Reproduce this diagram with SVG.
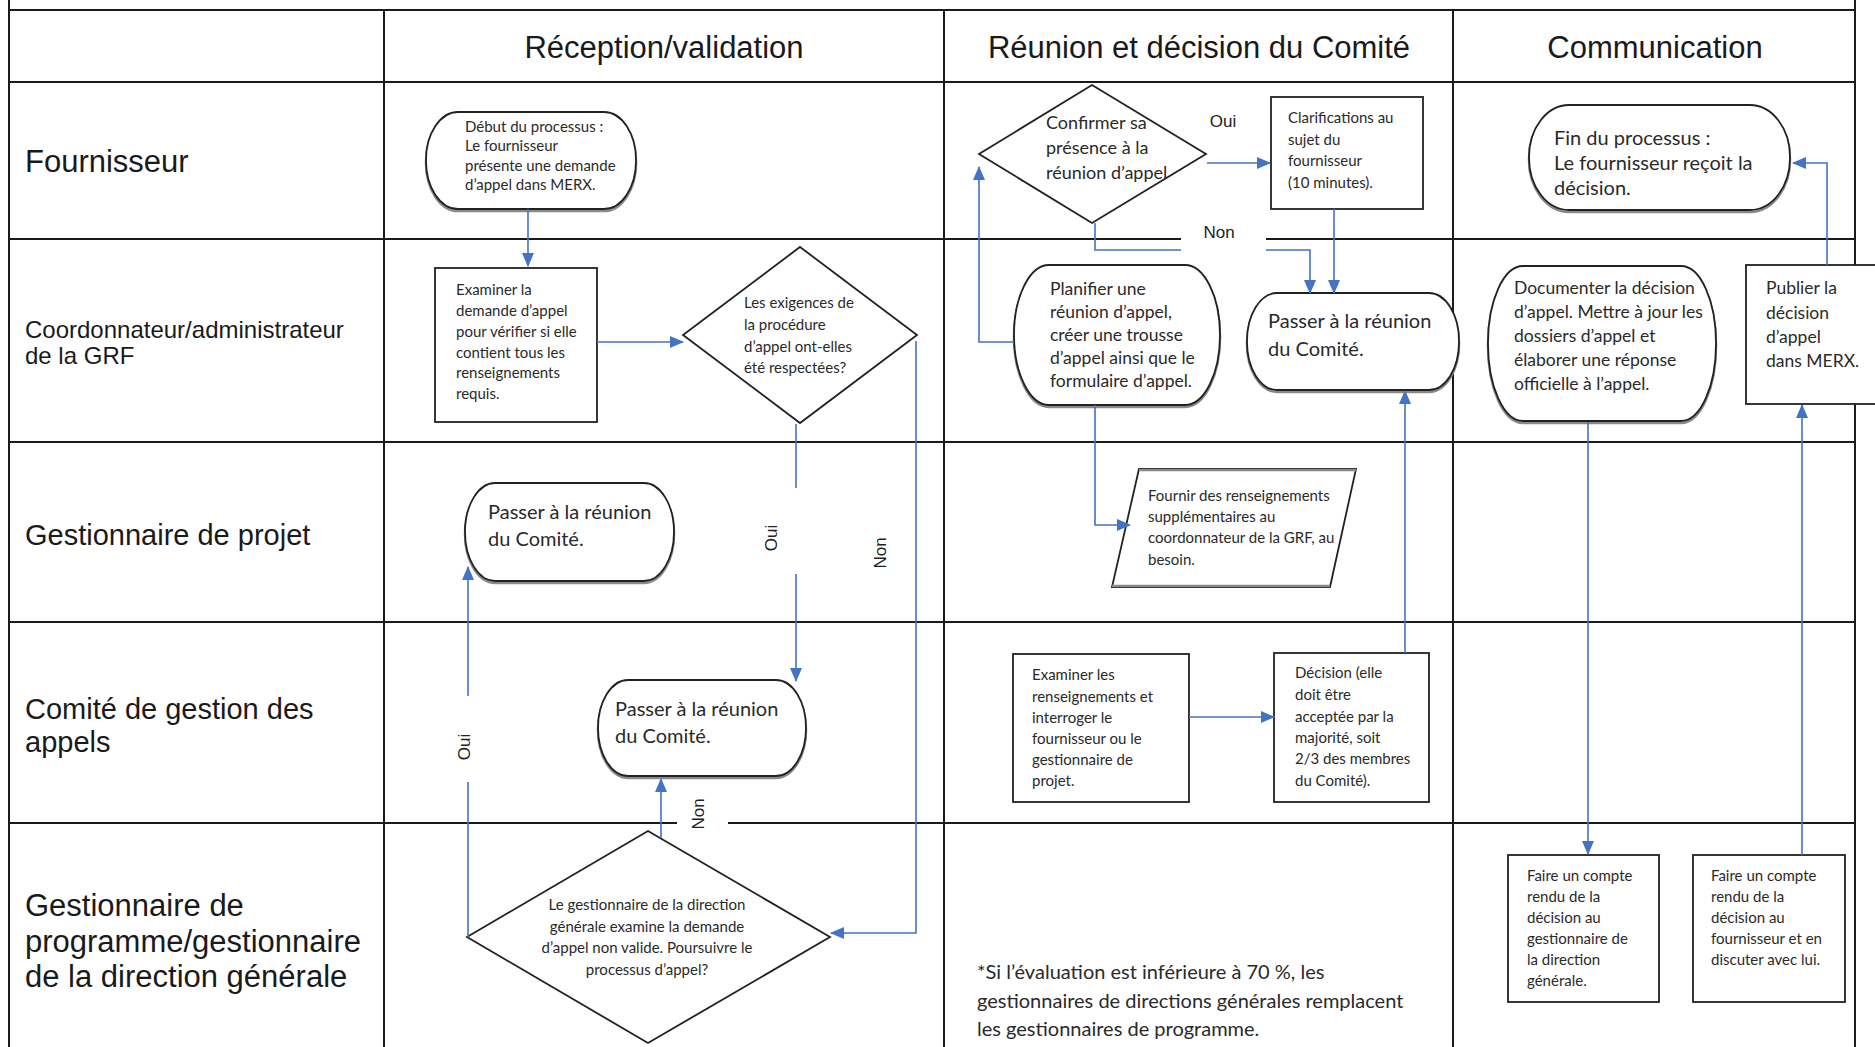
<svg xmlns="http://www.w3.org/2000/svg" width="1875" height="1047" viewBox="0 0 1875 1047">
<style>
.grid{stroke:#1a1a1a;stroke-width:2;fill:none}
.hdr{font-family:"Liberation Sans",Arial,sans-serif;font-size:31px;fill:#1a1a1a;text-anchor:middle}
.lane{font-family:"Liberation Sans",Arial,sans-serif;fill:#1a1a1a}
.box{fill:#fff;stroke:#222;stroke-width:1.8}
.shadow{fill:none;stroke:#8a8a8a;stroke-width:2.5}
.t{font-family:Lato,"Liberation Sans",sans-serif;fill:#2a2a2a}
.s{font-size:15px}
.m{font-size:17.5px}
.l{font-size:20px}
.conn{fill:none;stroke:#4472C4;stroke-width:1.6}
.arr{marker-end:url(#ah)}
.lbl{font-family:"Liberation Sans",Arial,sans-serif;font-size:17px;fill:#222;text-anchor:middle}
.mask{fill:#fff;stroke:none}
</style>
<defs>
<marker id="ah" markerUnits="userSpaceOnUse" markerWidth="14" markerHeight="12" refX="13" refY="6" orient="auto">
<path d="M0,0 L14,6 L0,12 z" fill="#4472C4"/>
</marker>
</defs>
<rect x="0" y="0" width="1875" height="1047" fill="#fff"/>
<g id="table">
<path class="grid" d="M9 0V1047M384 10V1047M944 10V1047M1453 10V1047M1855 0V1047M9 10H1855M9 82H1855M9 239H1855M9 442H1855M9 622H1855M9 823H1855"/>
<text class="hdr" x="664" y="58">Réception/validation</text>
<text class="hdr" x="1199" y="58">Réunion et décision du Comité</text>
<text class="hdr" x="1655" y="58">Communication</text>
<text class="lane" x="25" y="172" font-size="31">Fournisseur</text>
<text class="lane" x="25" y="338" font-size="24">Coordonnateur/administrateur</text>
<text class="lane" x="25" y="364" font-size="24">de la GRF</text>
<text class="lane" x="25" y="545" font-size="29">Gestionnaire de projet</text>
<text class="lane" x="25" y="719" font-size="29">Comité de gestion des</text>
<text class="lane" x="25" y="752" font-size="29">appels</text>
<text class="lane" x="25" y="916" font-size="31">Gestionnaire de</text>
<text class="lane" x="25" y="952" font-size="31">programme/gestionnaire</text>
<text class="lane" x="25" y="987" font-size="31">de la direction générale</text>
</g>
<g id="n-start">
<rect class="shadow" x="426" y="114" width="210" height="97" rx="32" ry="48"/>
<rect class="box" x="426" y="112" width="210" height="97" rx="32" ry="48"/>
<text class="t s" x="465"><tspan y="132" x="465">Début du processus :</tspan><tspan x="465" y="151">Le fournisseur</tspan><tspan x="465" y="171">présente une demande</tspan><tspan x="465" y="190">d’appel dans MERX.</tspan></text>
</g>
<g id="n-examiner">
<rect class="box" x="435" y="268" width="162" height="154"/>
<text class="t s"><tspan x="456" y="295">Examiner la</tspan><tspan x="456" y="316">demande d’appel</tspan><tspan x="456" y="337">pour vérifier si elle</tspan><tspan x="456" y="358">contient tous les</tspan><tspan x="456" y="378">renseignements</tspan><tspan x="456" y="399">requis.</tspan></text>
</g>
<g id="n-exigences">
<polygon class="box" points="800,247 917,335 800,423 683,335"/>
<text class="t s"><tspan x="744" y="308">Les exigences de</tspan><tspan x="744" y="330">la procédure</tspan><tspan x="744" y="352">d’appel ont-elles</tspan><tspan x="744" y="373">été respectées?</tspan></text>
</g>
<g id="n-passer-projet">
<rect class="shadow" x="465" y="485" width="209" height="98" rx="30" ry="49"/>
<rect class="box" x="465" y="483" width="209" height="98" rx="30" ry="49"/>
<text class="t l"><tspan x="488" y="519">Passer à la réunion</tspan><tspan x="488" y="546">du Comité.</tspan></text>
</g>
<g id="n-passer-comite">
<rect class="shadow" x="598" y="682" width="208" height="96" rx="30" ry="48"/>
<rect class="box" x="598" y="680" width="208" height="96" rx="30" ry="48"/>
<text class="t l"><tspan x="615" y="716">Passer à la réunion</tspan><tspan x="615" y="743">du Comité.</tspan></text>
</g>
<g id="n-direction">
<polygon class="box" points="648,831 830,937 648,1043 467,937"/>
<text class="t s" text-anchor="middle"><tspan x="647" y="910">Le gestionnaire de la direction</tspan><tspan x="647" y="932">générale examine la demande</tspan><tspan x="647" y="953">d’appel non valide. Poursuivre le</tspan><tspan x="647" y="975">processus d’appel?</tspan></text>
</g>
<g id="n-confirmer">
<polygon class="box" points="1092,85 1206,154 1092,223 979,154"/>
<text class="t" font-size="18"><tspan x="1046" y="129">Confirmer sa</tspan><tspan x="1046" y="154">présence à la</tspan><tspan x="1046" y="179">réunion d’appel</tspan></text>
</g>
<g id="n-clarif">
<rect class="box" x="1271" y="97" width="152" height="112"/>
<text class="t s"><tspan x="1288" y="123">Clarifications au</tspan><tspan x="1288" y="145">sujet du</tspan><tspan x="1288" y="166">fournisseur</tspan><tspan x="1288" y="188">(10 minutes).</tspan></text>
</g>
<g id="n-planifier">
<rect class="shadow" x="1014" y="267" width="206" height="140" rx="35" ry="70"/>
<rect class="box" x="1014" y="265" width="206" height="140" rx="35" ry="70"/>
<text class="t m"><tspan x="1050" y="295">Planifier une</tspan><tspan x="1050" y="318">réunion d’appel,</tspan><tspan x="1050" y="341">créer une trousse</tspan><tspan x="1050" y="364">d’appel ainsi que le</tspan><tspan x="1050" y="387">formulaire d’appel.</tspan></text>
</g>
<g id="n-passer-reunion">
<rect class="shadow" x="1247" y="295" width="212" height="97" rx="30" ry="48"/>
<rect class="box" x="1247" y="293" width="212" height="97" rx="30" ry="48"/>
<text class="t l"><tspan x="1268" y="328">Passer à la réunion</tspan><tspan x="1268" y="356">du Comité.</tspan></text>
</g>
<g id="n-fournir">
<polygon class="box" points="1139,469 1356,469 1330,587 1112,587"/>
<path class="shadow" d="M1139 470H1356M1112 586H1330"/>
<text class="t s"><tspan x="1148" y="501">Fournir des renseignements</tspan><tspan x="1148" y="522">supplémentaires au</tspan><tspan x="1148" y="543">coordonnateur de la GRF, au</tspan><tspan x="1148" y="565">besoin.</tspan></text>
</g>
<g id="n-examiner-renseignements">
<rect class="box" x="1013" y="654" width="176" height="148"/>
<text class="t s"><tspan x="1032" y="680">Examiner les</tspan><tspan x="1032" y="702">renseignements et</tspan><tspan x="1032" y="723">interroger le</tspan><tspan x="1032" y="744">fournisseur ou le</tspan><tspan x="1032" y="765">gestionnaire de</tspan><tspan x="1032" y="786">projet.</tspan></text>
</g>
<g id="n-decision">
<rect class="box" x="1274" y="653" width="155" height="149"/>
<text class="t s"><tspan x="1295" y="678">Décision (elle</tspan><tspan x="1295" y="700">doit être</tspan><tspan x="1295" y="722">acceptée par la</tspan><tspan x="1295" y="743">majorité, soit</tspan><tspan x="1295" y="764">2/3 des membres</tspan><tspan x="1295" y="786">du Comité).</tspan></text>
</g>
<g id="n-fin">
<rect class="shadow" x="1529" y="107" width="261" height="105" rx="40" ry="52"/>
<rect class="box" x="1529" y="105" width="261" height="105" rx="40" ry="52"/>
<text class="t l"><tspan x="1554" y="145">Fin du processus :</tspan><tspan x="1554" y="170">Le fournisseur reçoit la</tspan><tspan x="1554" y="195">décision.</tspan></text>
</g>
<g id="n-documenter">
<rect class="shadow" x="1488" y="268" width="228" height="155" rx="35" ry="77"/>
<rect class="box" x="1488" y="266" width="228" height="155" rx="35" ry="77"/>
<text class="t m"><tspan x="1514" y="294">Documenter la décision</tspan><tspan x="1514" y="318">d’appel. Mettre à jour les</tspan><tspan x="1514" y="342">dossiers d’appel et</tspan><tspan x="1514" y="366">élaborer une réponse</tspan><tspan x="1514" y="390">officielle à l’appel.</tspan></text>
</g>
<g id="n-publier">
<rect class="box" x="1746" y="265" width="140" height="139"/>
<text class="t m"><tspan x="1766" y="294">Publier la</tspan><tspan x="1766" y="319">décision</tspan><tspan x="1766" y="343">d’appel</tspan><tspan x="1766" y="367">dans MERX.</tspan></text>
</g>
<g id="n-compte-rendu-direction">
<rect class="box" x="1508" y="855" width="151" height="147"/>
<text class="t s"><tspan x="1527" y="881">Faire un compte</tspan><tspan x="1527" y="902">rendu de la</tspan><tspan x="1527" y="923">décision au</tspan><tspan x="1527" y="944">gestionnaire de</tspan><tspan x="1527" y="965">la direction</tspan><tspan x="1527" y="986">générale.</tspan></text>
</g>
<g id="n-compte-rendu-fournisseur">
<rect class="box" x="1693" y="855" width="152" height="147"/>
<text class="t s"><tspan x="1711" y="881">Faire un compte</tspan><tspan x="1711" y="902">rendu de la</tspan><tspan x="1711" y="923">décision au</tspan><tspan x="1711" y="944">fournisseur et en</tspan><tspan x="1711" y="965">discuter avec lui.</tspan></text>
</g>
<g id="note">
<text class="t" font-size="20"><tspan x="977" y="979">*Si l’évaluation est inférieure à 70 %, les</tspan><tspan x="977" y="1008">gestionnaires de directions générales remplacent</tspan><tspan x="977" y="1036">les gestionnaires de programme.</tspan></text>
</g>
<g id="connectors">
<path class="conn arr" d="M528 209V266"/>
<path class="conn arr" d="M597 342H683"/>
<path class="conn" d="M796 424V488"/>
<path class="conn arr" d="M796 574V681"/>
<text class="lbl" transform="translate(771,538) rotate(-90)" y="6">Oui</text>
<path class="conn arr" d="M916 341V933H831"/>
<text class="lbl" transform="translate(880,553) rotate(-90)" y="6">Non</text>
<path class="conn arr" d="M661 838V779"/>
<rect class="mask" x="677" y="799" width="51" height="31"/>
<text class="lbl" transform="translate(698,814) rotate(-90)" y="6">Non</text>
<path class="conn" d="M468 937V782"/>
<path class="conn arr" d="M468 696V567"/>
<text class="lbl" transform="translate(464,747) rotate(-90)" y="6">Oui</text>
<path class="conn arr" d="M1207 163H1270"/>
<text class="lbl" x="1223" y="127">Oui</text>
<path class="conn arr" d="M1095 223V250H1310V293"/>
<rect class="mask" x="1181" y="222" width="85" height="34"/>
<text class="lbl" x="1219" y="238">Non</text>
<path class="conn arr" d="M1334 209V293"/>
<path class="conn arr" d="M1014 342H979V167"/>
<path class="conn arr" d="M1095 405V525H1130"/>
<path class="conn arr" d="M1189 717H1274"/>
<path class="conn arr" d="M1405 653V391"/>
<path class="conn arr" d="M1588 422V854"/>
<path class="conn arr" d="M1802 855V405"/>
<path class="conn arr" d="M1827 265V163H1793"/>
</g>
</svg>
